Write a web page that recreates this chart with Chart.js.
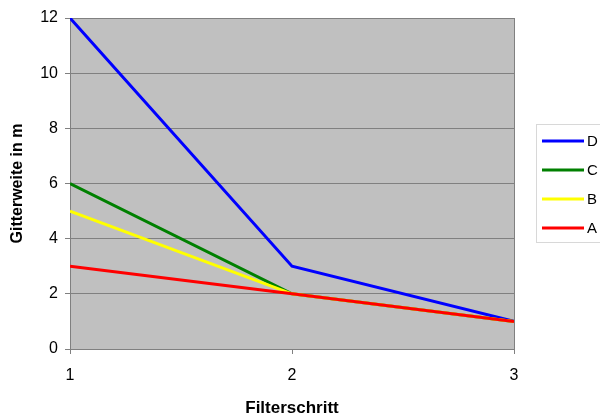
<!DOCTYPE html>
<html>
<head>
<meta charset="utf-8">
<script src="https://cdn.jsdelivr.net/npm/chart.js@4"></script>
<style>
  html, body { margin: 0; padding: 0; background: #fff; }
  #wrap { width: 600px; height: 419px; }
</style>
</head>
<body>
<div id="wrap"><canvas id="gitterChart"></canvas></div>
<script>
const steps = [1, 2, 3];
const seriesNames = ['D', 'C', 'B', 'A'];
const valuesD = [12, 3, 1];
const valuesC = [6, 2, 1];
const valuesB = [5, 2, 1];
const valuesA = [3, 2, 1];
const yTicks = [0, 2, 4, 6, 8, 10, 12];

const colors = ['#0000ff', '#008000', '#ffff00', '#ff0000'];
const allValues = [valuesD, valuesC, valuesB, valuesA];

const FONT = '"Liberation Sans", Arial, sans-serif';

// grey plot background plus right frame line
const plotArea = {
  id: 'plotArea',
  beforeDraw(chart) {
    const { ctx, chartArea: a } = chart;
    ctx.save();
    ctx.fillStyle = '#c0c0c0';
    ctx.fillRect(a.left, a.top, a.right - a.left, a.bottom - a.top);
    ctx.restore();
  },
  afterDatasetsDraw(chart) {
    const { ctx, chartArea: a } = chart;
    ctx.save();
    ctx.strokeStyle = '#808080';
    ctx.lineWidth = 1;
    ctx.beginPath();
    ctx.moveTo(a.right + 0.5, a.top);
    ctx.lineTo(a.right + 0.5, a.bottom);
    ctx.stroke();
    ctx.restore();
  }
};

// boxed legend on the right side
const boxLegend = {
  id: 'boxLegend',
  afterDraw(chart) {
    const ctx = chart.ctx;
    ctx.save();
    ctx.strokeStyle = '#d8d8d8';
    ctx.lineWidth = 1;
    ctx.strokeRect(536.5, 124.5, 70, 118);
    ctx.font = '15px ' + FONT;
    ctx.textBaseline = 'middle';
    ctx.fillStyle = '#000';
    chart.data.datasets.forEach((ds, i) => {
      const y = 141 + i * 29;
      ctx.strokeStyle = ds.borderColor;
      ctx.lineWidth = 3;
      ctx.beginPath();
      ctx.moveTo(542, y);
      ctx.lineTo(584, y);
      ctx.stroke();
      ctx.fillText(ds.label, 587, y + 1);
    });
    ctx.restore();
  }
};

const ctx = document.getElementById('gitterChart').getContext('2d');
const gitterChart = new Chart(ctx, {
  type: 'line',
  data: {
    datasets: seriesNames.map((name, i) => ({
      label: name,
      data: steps.map((s, j) => ({ x: s, y: allValues[i][j] })),
      borderColor: colors[i],
      backgroundColor: colors[i],
      borderWidth: 3,
      pointRadius: 0,
      tension: 0,
      fill: false,
      order: seriesNames.length - i  // A painted last, on top
    }))
  },
  plugins: [plotArea, boxLegend],
  options: {
    responsive: true,
    maintainAspectRatio: false,
    animation: false,
    layout: { padding: { left: 0, right: 86, top: 18, bottom: 0 } },
    plugins: {
      legend: { display: false },
      tooltip: { enabled: false }
    },
    scales: {
      x: {
        type: 'linear',
        min: 1,
        max: 3,
        afterFit(scale) { scale.height = 70; },
        afterBuildTicks(scale) { scale.ticks = steps.map(v => ({ value: v })); },
        ticks: { color: '#000', font: { family: FONT, size: 16 }, padding: 12 },
        grid: { drawOnChartArea: false, drawTicks: true, tickLength: 5, color: '#808080' },
        border: { color: '#808080' },
        title: {
          display: true,
          text: 'Filterschritt',
          color: '#000',
          font: { family: FONT, size: 17, weight: 'bold' },
          padding: { top: 8, bottom: 0 }
        }
      },
      y: {
        min: 0,
        max: 12,
        afterFit(scale) { scale.width = 70; },
        afterBuildTicks(scale) { scale.ticks = yTicks.map(v => ({ value: v })); },
        ticks: { color: '#000', font: { family: FONT, size: 16 }, padding: 7 },
        grid: { color: '#808080', tickLength: 5 },
        border: { color: '#808080' },
        title: {
          display: true,
          text: 'Gitterweite in m',
          color: '#000',
          font: { family: FONT, size: 16, weight: 'bold' },
          padding: { top: 8, bottom: 0 }
        }
      }
    }
  }
});
</script>
</body>
</html>
